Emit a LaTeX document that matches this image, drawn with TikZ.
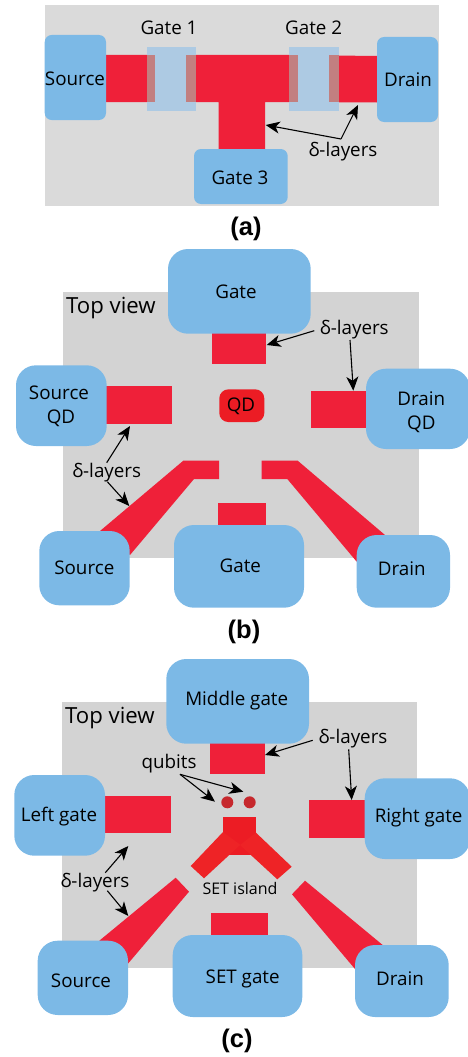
\documentclass[tikz,border=0pt]{standalone}
\usepackage{fontspec}
\setmainfont{Open Sans}
\newfontfamily\capfont{Liberation Sans}
\usetikzlibrary{arrows.meta}
\definecolor{padblue}{HTML}{7CB9E6}
\definecolor{layerred}{HTML}{EF2039}
\definecolor{dotred}{HTML}{EC1C24}
\definecolor{qubitred}{HTML}{C6282D}
\definecolor{armred}{HTML}{EE2326}
\definecolor{grayA}{HTML}{DADADA}
\definecolor{grayB}{HTML}{D3D3D3}
\definecolor{gatepale}{HTML}{ADCAE3}
\definecolor{gateblend}{HTML}{C27F80}
\tikzset{
  x=1pt,y=-1pt,
  lbl/.style={inner sep=0pt,text=black,font=\fontsize{18.8}{21}\selectfont},
  lblsmall/.style={lbl,font=\fontsize{16}{18}\selectfont},
  lblbig/.style={lbl,font=\fontsize{22.2}{25}\selectfont},
  caption/.style={inner sep=0pt,text=black,font=\capfont\bfseries\fontsize{25.5}{28}\selectfont},
  padbox/.style={fill=padblue,inner sep=0pt,outer sep=0pt},
  layer/.style={fill=layerred},
  pointer/.style={draw=black,line width=1.1pt,-{Stealth[length=14pt,width=12pt,inset=4pt]}},
}
% name, x1, y1, x2, y2, corner radius
\newcommand{\padnode}[6]{%
  \pgfmathsetmacro{\cxx}{(#2+#4)/2}\pgfmathsetmacro{\cyy}{(#3+#5)/2}%
  \pgfmathsetmacro{\www}{#4-#2}\pgfmathsetmacro{\hhh}{#5-#3}%
  \node[padbox,rounded corners=#6pt,minimum width=\www pt,minimum height=\hhh pt] (#1) at (\cxx,\cyy) {};}
\begin{document}
\begin{tikzpicture}
\useasboundingbox (0,0) rectangle (468,1057);
%% ---------- (a) ----------
\fill[grayA] (45,5) rectangle (439,205.7);
\fill[layer] (106,55) -- (289,55) -- (377,56) -- (377,102.5) -- (265,102) -- (265,149) -- (218.7,149) -- (218.7,102) -- (106,102) -- cycle;
\fill[gatepale] (146.7,46.7) rectangle (196,111);
\fill[gatepale] (289,46.7) rectangle (338.7,111);
\fill[gateblend] (146.7,55) rectangle (155,102);
\fill[gateblend] (186.3,55) rectangle (196,102);
\fill[gateblend] (289,55) rectangle (298.3,102);
\fill[gateblend] (329,55.5) rectangle (338.7,102);
\padnode{aS}{44.7}{35}{106}{120}{7}
\padnode{aD}{377}{37}{438}{122}{7}
\padnode{aG}{194}{149}{287.7}{204}{7}
\node[lbl] (aSt) at (75,79) {Source};
\node[lbl] (aDt) at (408,79.7) {Drain};
\node[lbl] (aGt) at (240,178) {Gate 3};
\node[lbl] (aG1) at (169,28) {Gate 1};
\node[lbl] (aG2) at (313.7,28) {Gate 2};
\node[lbl] (aL) at (343,151.5) {δ-layers};
\coordinate (aLs) at (341,139);
\coordinate (aT1) at (265.7,125);
\coordinate (aT2) at (358,105);
\draw[pointer] (aLs) -- (aT1);
\draw[pointer] (aLs) -- (aT2);
\node[caption] (aC) at (246,229) {(a)};
%% ---------- (b) ----------
\fill[grayB] (63,292) rectangle (419,558);
\fill[layer] (212,330) rectangle (266,363.7);
\fill[layer] (104,386.3) rectangle (172.3,423.7);
\fill[layer] (310.7,390.7) rectangle (368,428);
\fill[layer] (218,503.3) rectangle (265.7,528);
\fill[layer] (219,460.7) -- (183.3,460.7) -- (100,531) -- (130,555) -- (194,479) -- (219,479) -- cycle;
\fill[layer] (261.7,460.7) -- (297.7,460.7) -- (385,535) -- (356.7,561.7) -- (287.3,479) -- (261.7,479) -- cycle;
\padnode{bG}{168}{249}{310.7}{333.7}{20}
\padnode{bSQ}{16}{365.3}{106.7}{446}{20}
\padnode{bDQ}{366}{368.7}{470}{449}{20}
\padnode{bGb}{174}{525}{304}{607.7}{20}
\padnode{bS}{39.3}{531}{129.7}{605.3}{20}
\padnode{bD}{356.7}{535}{450}{607.7}{20}
\node[fill=dotred,rounded corners=9pt,minimum width=45pt,minimum height=32.7pt,inner sep=0pt] (bQ) at (241.8,405.7) {};
\node[lbl] (bQt) at (241,406.7) {QD};
\node[lblbig] (bTV) at (111,308.5) {Top view};
\node[lbl] (bGt) at (236,291.7) {Gate};
\node[lbl] (bL1) at (354.3,329.5) {δ-layers};
\node[lbl] (bSQ1) at (59,392.7) {Source};
\node[lbl] (bSQ2) at (61,418) {QD};
\node[lbl] (bDQ1) at (421.3,399) {Drain};
\node[lbl] (bDQ2) at (421.3,424) {QD};
\node[lbl] (bL2) at (106.7,472.5) {δ-layers};
\node[lbl] (bSt) at (84.3,567.7) {Source};
\node[lbl] (bGbt) at (240.3,565.7) {Gate};
\node[lbl] (bDt) at (401.7,569) {Drain};
\coordinate (bA1) at (314.3,330.7); \coordinate (bB1) at (266.7,345);
\coordinate (bA2) at (350,340);     \coordinate (bB2) at (353.3,390.7);
\coordinate (bA3) at (106.7,462.7); \coordinate (bB3) at (130,426);
\coordinate (bA4) at (107.3,481.7); \coordinate (bB4) at (129.3,506);
\draw[pointer] (bA1) -- (bB1);
\draw[pointer] (bA2) -- (bB2);
\draw[pointer] (bA3) -- (bB3);
\draw[pointer] (bA4) -- (bB4);
\node[caption] (bC) at (244,632) {(b)};
%% ---------- (c) ----------
\fill[grayB] (61.7,702) rectangle (417.3,967.7);
\fill[layer] (210.3,740) rectangle (264.7,773.7);
\fill[layer] (103,796) rectangle (171,833.3);
\fill[layer] (309,800.3) rectangle (367,837.7);
\fill[layer] (211,913.3) rectangle (267.7,938);
\fill[layer] (175.7,877.7) -- (189,891.7) -- (128.3,963.3) -- (99.3,940.7) -- cycle;
\fill[layer] (305,880.7) -- (292,894.3) -- (355,969) -- (382.7,945) -- cycle;
\fill[dotred] (223,816.7) rectangle (256,855);
\fill[armred] (190.7,866) -- (204,878.3) -- (240.3,844.8) -- (223,832) -- cycle;
\fill[armred] (291.7,866.7) -- (277.3,879.3) -- (240,845) -- (256,832.7) -- cycle;
\padnode{cM}{166.3}{659}{309}{743.7}{20}
\padnode{cLg}{14.3}{775}{105}{855.7}{20}
\padnode{cRg}{364.7}{778.3}{470}{859}{20}
\padnode{cSg}{172.7}{935}{302.3}{1017}{20}
\padnode{cS}{37.7}{940.7}{128}{1015}{20}
\padnode{cD}{355}{945}{448.7}{1017}{20}
\node[circle,fill=qubitred,minimum size=12pt,inner sep=0pt] (cQ1) at (227.3,802.3) {};
\node[circle,fill=qubitred,minimum size=12pt,inner sep=0pt] (cQ2) at (249.7,802.3) {};
\node[lblbig] (cTV) at (110,718) {Top view};
\node[lbl] (cMt) at (236.7,701) {Middle gate};
\node[lbl] (cL1) at (353,739) {δ-layers};
\node[lbl] (cQt) at (169,763.5) {qubits};
\node[lbl] (cLt) at (59,817) {Left gate};
\node[lbl] (cRt) at (418.7,818) {Right gate};
\node[lblsmall] (cI) at (240,888) {SET island};
\node[lbl] (cL2) at (95,882.5) {δ-layers};
\node[lbl] (cSt) at (81,981) {Source};
\node[lbl] (cSgt) at (242.7,978.5) {SET gate};
\node[lbl] (cDt) at (400,979) {Drain};
\coordinate (cA1) at (312.7,740.3); \coordinate (cB1) at (265,755);
\coordinate (cA2) at (348.7,749.3); \coordinate (cB2) at (351.7,800);
\coordinate (cA3) at (105.3,872.7); \coordinate (cB3) at (128.3,846);
\coordinate (cA4) at (107.3,890.7); \coordinate (cB4) at (128.3,916);
\coordinate (cA5) at (180,774.3);   \coordinate (cB5) at (215,801.7);
\coordinate (cB6) at (243.3,791.7);
\draw[pointer] (cA1) -- (cB1);
\draw[pointer] (cA2) -- (cB2);
\draw[pointer] (cA3) -- (cB3);
\draw[pointer] (cA4) -- (cB4);
\draw[pointer] (cA5) -- (cB5);
\draw[pointer] (cA5) -- (cB6);
\node[caption] (cC) at (237,1040.5) {(c)};
\end{tikzpicture}
\end{document}
